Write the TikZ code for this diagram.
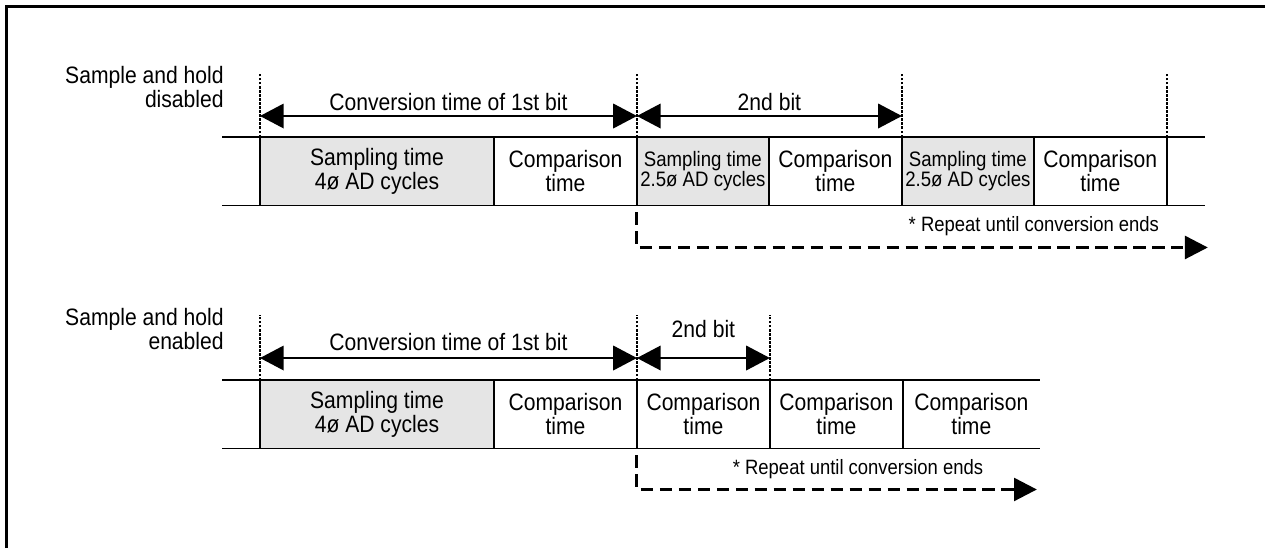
\documentclass[tikz,border=0pt]{standalone}
\usepackage{fontspec}
\setmainfont{Liberation Sans}[FakeStretch=0.89]
\usetikzlibrary{arrows.meta,positioning}

\begin{document}
\begin{tikzpicture}[x=0.02cm,y=-0.02cm,
box/.style={draw,line width=1.1pt,minimum height=1.37cm,inner sep=0pt,outer sep=0pt,align=center,font=\fontsize{13.5}{13.5}\selectfont},
sbox/.style={box,fill=black!10},
ssmall/.style={sbox,font=\fontsize{11.9}{11.5}\selectfont},
band/.style={line width=1.1pt},
guide/.style={line width=1.3pt,dash pattern=on 1.4pt off 0.9pt},
arrow/.style={{Triangle[length=13.5pt,width=14pt]}-{Triangle[length=13.5pt,width=14pt]},line width=0.9pt},
again/.style={-{Triangle[length=13pt,width=13pt]},line width=1.7pt,dash pattern=on 7pt off 3.8pt},
note/.style={font=\fontsize{11.8}{12}\selectfont},
lbl/.style={align=right,inner sep=0pt,font=\fontsize{13.5}{12}\selectfont}]
\useasboundingbox (0,0) rectangle (1265,548);
\draw[line width=1.5pt] (6.3,548) -- (6.3,6.3) -- (1265,6.3);
% sample and hold disabled
\node[lbl,anchor=north east] (sh1) at (224,66) {Sample and hold\\disabled};
\node[sbox,minimum width=4.68cm,anchor=north west] (samp1) at (260,137) {Sampling time\\4ø AD cycles};
\node[box,minimum width=2.86cm,right=0pt of samp1] (comp1) {Comparison\\time};
\node[ssmall,minimum width=2.64cm,right=0pt of comp1] (samp2) {Sampling time\\2.5ø AD cycles};
\node[box,minimum width=2.66cm,right=0pt of samp2] (comp2) {Comparison\\time};
\node[ssmall,minimum width=2.64cm,right=0pt of comp2] (samp3) {Sampling time\\2.5ø AD cycles};
\node[box,minimum width=2.66cm,right=0pt of samp3] (comp3) {Comparison\\time};
\draw[band] ([xshift=-0.76cm]samp1.north west) -- ([xshift=0.76cm]comp3.north east);
\draw[band] ([xshift=-0.76cm]samp1.south west) -- ([xshift=0.76cm]comp3.south east);
\draw[guide] (samp1.north west) -- ++(0,-64);
\draw[guide] (samp2.north west) -- ++(0,-64);
\draw[guide] (samp3.north west) -- ++(0,-64);
\draw[guide] (comp3.north east) -- ++(0,-64);
\draw[arrow] ([yshift=0.42cm]samp1.north west) -- ([yshift=0.42cm]samp2.north west)
  node[midway,anchor=base,yshift=0.12cm,font=\fontsize{13.5}{13}\selectfont] (bit1) {Conversion time of 1st bit};
\draw[arrow] ([yshift=0.42cm]samp2.north west) -- ([yshift=0.42cm]samp3.north west)
  node[midway,anchor=base,yshift=0.12cm,font=\fontsize{13.5}{13}\selectfont] (bit2) {2nd bit};
\draw[again] ([yshift=-0.14cm]samp2.south west) |- ([xshift=0.82cm,yshift=-0.84cm]comp3.south east);
\node[note] (rep1) at ([yshift=-0.42cm]samp3.south east) {* Repeat until conversion ends};
% sample and hold enabled
\node[lbl,anchor=north east] (sh2) at (224,308) {Sample and hold\\enabled};
\node[sbox,minimum width=4.68cm,anchor=north west] (hsamp) at (260,380) {Sampling time\\4ø AD cycles};
\node[box,minimum width=2.86cm,right=0pt of hsamp] (hcomp1) {Comparison\\time};
\node[box,minimum width=2.66cm,right=0pt of hcomp1] (hcomp2) {Comparison\\time};
\node[box,minimum width=2.66cm,right=0pt of hcomp2] (hcomp3) {Comparison\\time};
\node[box,draw=none,minimum width=2.74cm,right=0pt of hcomp3] (hcomp4) {Comparison\\time};
\draw[band] ([xshift=-0.76cm]hsamp.north west) -- (hcomp4.north east);
\draw[band] ([xshift=-0.76cm]hsamp.south west) -- (hcomp4.south east);
\draw[guide] (hsamp.north west) -- ++(0,-65);
\draw[guide] (hcomp2.north west) -- ++(0,-65);
\draw[guide] (hcomp3.north west) -- ++(0,-65);
\draw[arrow] ([yshift=0.44cm]hsamp.north west) -- ([yshift=0.44cm]hcomp2.north west)
  node[midway,anchor=base,yshift=0.16cm,font=\fontsize{13.5}{13}\selectfont] (hbit1) {Conversion time of 1st bit};
\draw[arrow] ([yshift=0.44cm]hcomp2.north west) -- ([yshift=0.44cm]hcomp3.north west)
  node[midway,anchor=base,yshift=0.42cm,font=\fontsize{13.5}{13}\selectfont] (hbit2) {2nd bit};
\draw[again] ([yshift=-0.14cm]hcomp2.south west) |- ([xshift=-0.06cm,yshift=-0.82cm]hcomp4.south east);
\node[note] (rep2) at (858,469) {* Repeat until conversion ends};
\end{tikzpicture}
\end{document}
